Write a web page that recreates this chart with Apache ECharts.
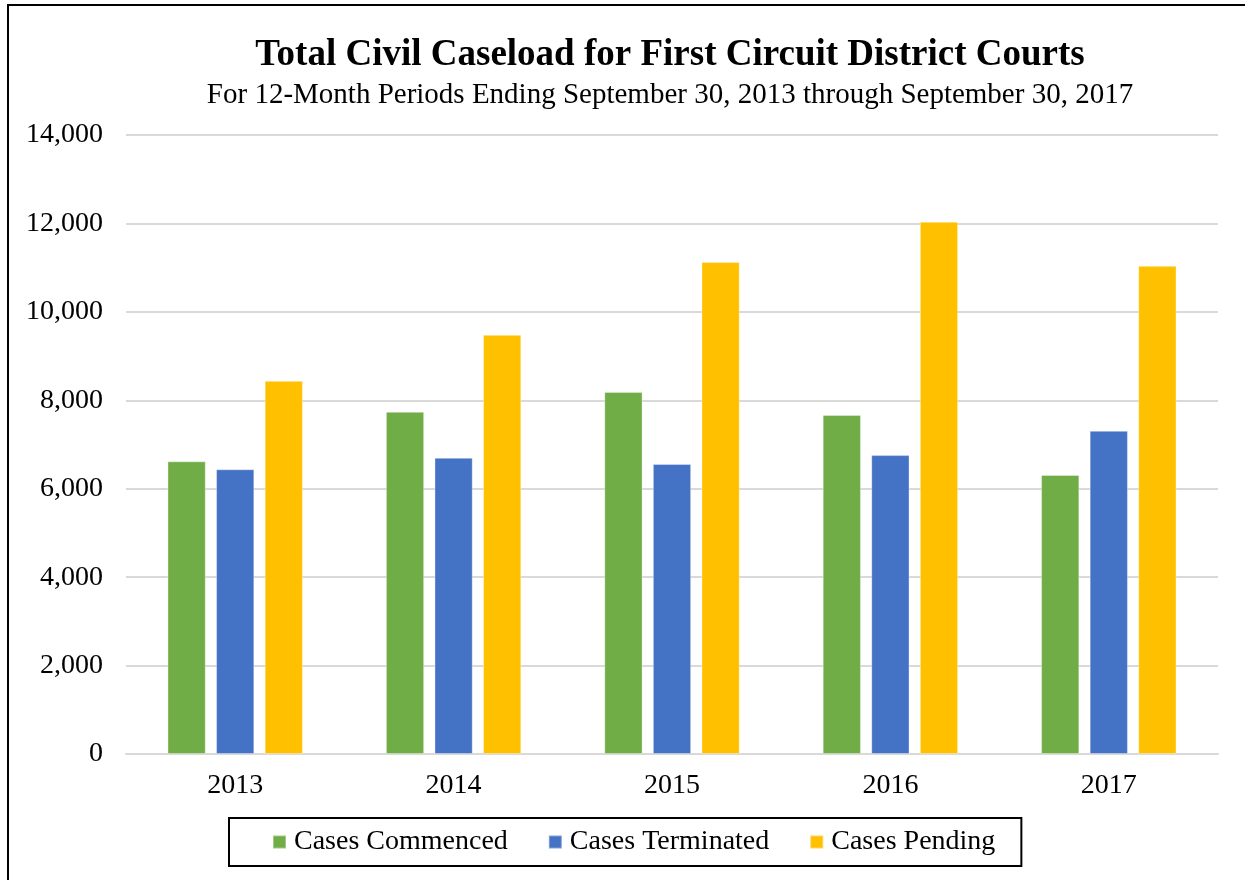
<!DOCTYPE html>
<html>
<head>
<meta charset="utf-8">
<script src="https://cdn.jsdelivr.net/npm/echarts@6/dist/echarts.min.js"></script>
<style>
  html, body { margin: 0; padding: 0; background: #fff; overflow: hidden; }
  #frame { position: absolute; left: 7px; top: 4px; width: 1260px; height: 900px; border: 2px solid #000; box-sizing: border-box; }
  #main { position: absolute; left: 0; top: 0; width: 1245px; height: 880px; }
</style>
</head>
<body>
<div id="frame"></div>
<div id="main"></div>
<script>
var years = ['2013', '2014', '2015', '2016', '2017'];
var commenced = [6620, 7740, 8190, 7670, 6310];
var terminated = [6440, 6700, 6560, 6760, 7310];
var pending = [8440, 9480, 11130, 12040, 11040];
var yTicks = { min: 0, max: 14000, interval: 2000 };

var chartDom = document.getElementById('main');
var myChart = echarts.init(chartDom);
var font = 'Liberation Serif';

function bar(name, data, color) {
    return {
        name: name,
        type: 'bar',
        data: data,
        barGap: '27%',
        barCategoryGap: '38%',
        itemStyle: { color: color, borderColor: 'rgba(255,255,255,0.35)', borderWidth: 1 }
    };
}

var option = {
    animation: false,
    title: [
        {
            text: 'Total Civil Caseload for First Circuit District Courts',
            left: 665,
            top: 32,
            textAlign: 'center',
            textStyle: { fontFamily: font, fontSize: 37, fontWeight: 'bold', color: '#000' }
        },
        {
            text: 'For 12-Month Periods Ending September 30, 2013 through September 30, 2017',
            left: 665,
            top: 76,
            textAlign: 'center',
            textStyle: { fontFamily: font, fontSize: 29, fontWeight: 'normal', color: '#000' }
        }
    ],
    legend: {
        left: 229,
        top: 818,
        borderColor: '#000',
        borderWidth: 2,
        padding: [10, 26, 10, 43],
        itemWidth: 13,
        itemHeight: 13,
        itemGap: 40,
        icon: 'rect',
        textStyle: { fontFamily: font, fontSize: 28, color: '#000', padding: [0, 0, 0, 3] }
    },
    grid: { left: 126, right: 27, top: 135, bottom: 126 },
    xAxis: {
        type: 'category',
        data: years,
        axisLine: { lineStyle: { color: '#d9d9d9', width: 2 } },
        axisTick: { show: false },
        axisLabel: { fontFamily: font, fontSize: 28, color: '#000', margin: 18 }
    },
    yAxis: {
        type: 'value',
        min: yTicks.min,
        max: yTicks.max,
        interval: yTicks.interval,
        axisLine: { show: false },
        axisTick: { show: false },
        splitLine: { lineStyle: { color: '#d9d9d9', width: 2 } },
        axisLabel: {
            fontFamily: font, fontSize: 28, color: '#000', margin: 23,
            formatter: function (v) { return v.toLocaleString('en-US'); }
        }
    },
    series: [
        bar('Cases Commenced', commenced, '#70ad47'),
        bar('Cases Terminated', terminated, '#4472c4'),
        bar('Cases Pending', pending, '#ffc000')
    ]
};

option && myChart.setOption(option);
</script>
</body>
</html>
